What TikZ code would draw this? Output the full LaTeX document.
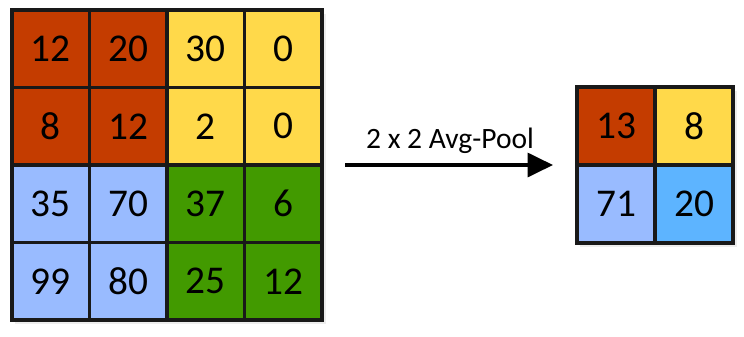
\documentclass[tikz,border=0pt]{standalone}
\usepackage{fontspec}
\setmainfont{Carlito}
\usepackage{xcolor}
\usepackage{tikz}
\usetikzlibrary{arrows.meta, positioning}
\definecolor{poolred}{HTML}{C43C00}
\definecolor{poolyellow}{HTML}{FFD94A}
\definecolor{poollight}{HTML}{99BBFF}
\definecolor{poolgreen}{HTML}{429A00}
\definecolor{poolblue}{HTML}{5DB4FF}

\begin{document}
\begin{tikzpicture}[
  x=0.025cm, y=-0.025cm,
  >=Stealth,
  cell/.style={rectangle, minimum size=1.9375cm, draw=black!90, line width=2.3pt,
    inner sep=0pt, font=\fontsize{28}{30}\selectfont},
  ocell/.style={cell, minimum size=1.95cm},
  arr/.style={-{Triangle[length=18pt, width=17pt]}, line width=2.3pt}
]
\useasboundingbox (0,0) rectangle (744,336);

% ---- Shadows ----
\fill[black!7] (15,14) rectangle (326,324);
\fill[black!7] (580,91) rectangle (737,247);

% ---- Input feature map ----
\node[cell, fill=poolred] (i11) at (50.75,48.75) {12};
\node[cell, fill=poolred] (i12) at (128.25,48.75) {20};
\node[cell, fill=poolyellow] (i13) at (205.75,48.75) {30};
\node[cell, fill=poolyellow] (i14) at (283.25,48.75) {0};

\node[cell, fill=poolred] (i21) at (50.75,126.25) {8};
\node[cell, fill=poolred] (i22) at (128.25,126.25) {12};
\node[cell, fill=poolyellow] (i23) at (205.75,126.25) {2};
\node[cell, fill=poolyellow] (i24) at (283.25,126.25) {0};

\node[cell, fill=poollight] (i31) at (50.75,203.75) {35};
\node[cell, fill=poollight] (i32) at (128.25,203.75) {70};
\node[cell, fill=poolgreen] (i33) at (205.75,203.75) {37};
\node[cell, fill=poolgreen] (i34) at (283.25,203.75) {6};

\node[cell, fill=poollight] (i41) at (50.75,281.25) {99};
\node[cell, fill=poollight] (i42) at (128.25,281.25) {80};
\node[cell, fill=poolgreen] (i43) at (205.75,281.25) {25};
\node[cell, fill=poolgreen] (i44) at (283.25,281.25) {12};

% ---- Pooled output ----
\node[ocell, fill=poolred] (o11) at (616,126) {13};
\node[ocell, fill=poolyellow] (o12) at (694,126) {8};
\node[ocell, fill=poollight] (o21) at (616,204) {71};
\node[ocell, fill=poolblue] (o22) at (694,204) {20};

% ---- Pooling arrow ----
\coordinate (src) at (345,165);
\coordinate (dst) at (553,165);
\draw[arr] (src) -- (dst);
\node[anchor=base, font=\fontsize{21}{24}\selectfont] (lbl) at (450,148) {2 x 2 Avg-Pool};

\end{tikzpicture}
\end{document}
